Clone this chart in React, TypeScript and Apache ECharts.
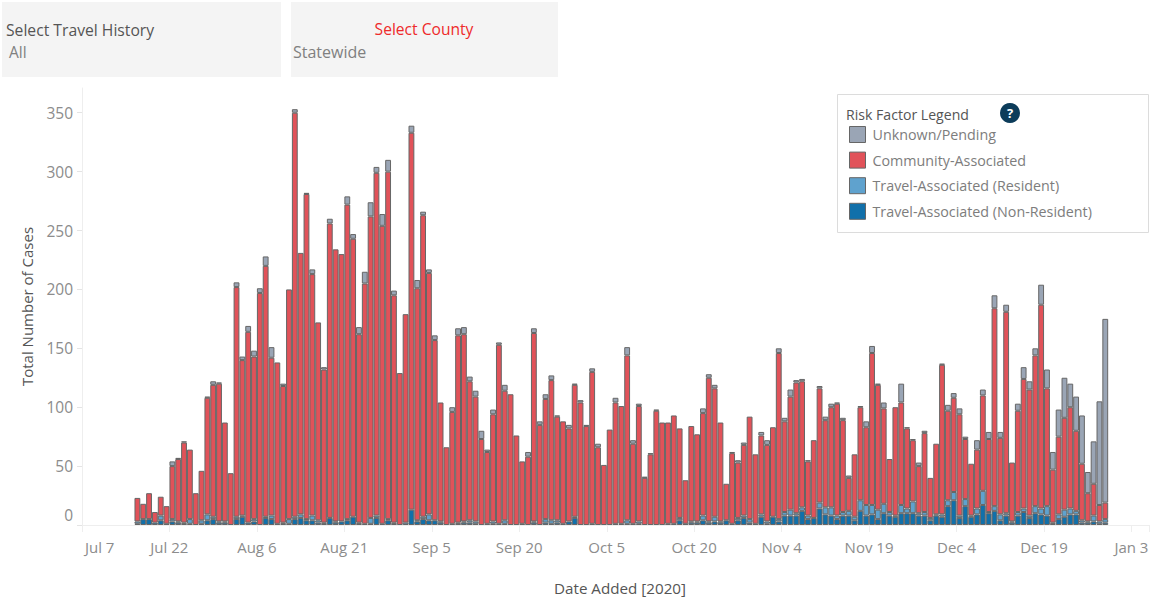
import React, { useEffect, useRef } from "react";
import * as echarts from "echarts";

const FONT = '"Open Sans", "Noto Sans", sans-serif';

const nonResident = [
  1,5,5,2,4,0,3,2,1,1, 0,1,4,5,2,2,0,5,7,2, 3,0,6,5,0,1,1,5,6,4, 4,2,1,6,2,3,4,7,1,1,
  1,6,0,4,1,0,0,13,3,5, 4,4,2,0,0,1,2,2,1,0, 1,1,0,1,0,0,0,0,2,0, 2,1,2,0,3,6,0,0,1,0,
  0,0,0,0,1,1,1,0,0,0, 0,0,0,4,1,2,2,4,2,3, 2,4,1,4,6,2,1,7,1,7, 3,8,8,8,12,5,6,14,9,8,
  5,8,8,4,12,8,9,5,10,8, 7,10,10,10,8,8,4,8,7,16, 21,6,16,7,9,17,10,12,4,8, 2,8,11,6,10,9,8,1,5,7,
  9,9,2,2,3,1,2,
];
const resident = [
  2,0,0,0,4,1,2,1,1,4, 0,3,5,2,1,1,0,2,1,0, 2,0,1,3,1,1,4,2,3,1, 4,2,1,0,1,0,1,0,1,0,
  5,2,1,1,1,0,2,0,1,2, 5,0,1,0,1,1,1,2,2,0, 0,2,1,3,0,0,1,0,1,0, 3,3,2,1,0,1,0,0,0,0,
  0,0,1,1,3,0,2,0,0,0, 0,1,1,2,0,1,1,4,1,4, 1,0,0,2,2,3,0,2,2,0, 2,3,5,2,3,3,0,5,6,7,
  3,3,4,3,9,9,8,8,8,3, 1,7,4,10,2,3,2,1,2,5, 7,2,6,1,5,12,1,4,5,2, 1,3,3,2,6,5,8,1,4,6,
  5,3,2,1,5,2,3,
];
const community = [
  20,13,22,9,16,15,45,53,68,59, 27,42,99,112,117,84,44,195,132,162,
  138,197,213,134,137,116,195,343,222,276, 205,168,130,250,231,227,267,236,160,204,
  256,291,253,295,193,129,177,320,197,256, 205,153,101,66,95,159,159,118,106,73,
  61,91,152,110,111,76,53,58,160,85, 102,119,88,87,79,112,104,84,129,66,
  51,81,103,100,140,68,98,40,60,97, 87,86,92,76,37,81,74,87,122,109,
  84,31,60,47,60,87,59,67,65,76, 141,77,96,111,107,46,66,97,74,85,
  95,78,28,53,79,66,129,106,81,45, 92,87,68,52,40,67,34,60,127,76,
  80,86,51,44,50,81,62,168,65,171, 50,86,110,107,128,173,100,45,66,78,
  86,68,48,24,27,14,14,
];
const unknown = [
  0,0,0,0,0,0,4,1,1,0, 0,0,1,3,1,0,0,4,3,5, 5,4,8,9,0,2,0,3,0,1, 4,0,2,4,0,0,7,4,6,10,
  12,5,10,10,4,0,0,6,7,3, 3,4,0,0,4,6,6,4,5,7, 2,4,2,5,0,0,0,4,4,3, 4,4,1,0,3,1,2,1,3,3,
  0,0,4,0,7,3,2,1,1,1, 0,0,0,0,0,0,0,4,3,3, 0,0,1,2,2,0,0,3,4,0, 4,3,6,2,2,1,0,2,3,3,
  1,2,2,0,1,5,6,1,5,0, 0,16,1,1,3,2,0,0,1,5, 4,5,2,0,8,5,6,11,5,6, 0,6,10,7,6,17,16,15,23,34,
  20,29,41,18,36,88,156,
];
const yTicks = [0, 50, 100, 150, 200, 250, 300, 350];
const seriesNames = [
  "Unknown/Pending",
  "Community-Associated",
  "Travel-Associated (Resident)",
  "Travel-Associated (Non-Resident)",
];

const MONTHS = ["Jan","Feb","Mar","Apr","May","Jun","Jul","Aug","Sep","Oct","Nov","Dec"];
const categories: string[] = [];
for (let i = 0; i < 183; i++) {
  const d = new Date(Date.UTC(2020, 6, 7 + i));
  categories.push(`${MONTHS[d.getUTCMonth()]} ${d.getUTCDate()}`);
}
const LEAD = 9; // first reported day is Jul 16
const pad = (a: number[]) => [...new Array(LEAD).fill(null), ...a.map((v) => (v === 0 ? null : v))];

export default function App() {
  const ref = useRef<HTMLDivElement>(null);
  useEffect(() => {
    const chart = echarts.init(ref.current!, undefined, { renderer: "svg" });
    const bar = (name: string, data: number[], color: string) => ({
      name,
      type: "bar",
      stack: "cases",
      data: pad(data),
      barWidth: "100%",
      itemStyle: { color, borderColor: "#666666", borderWidth: 1 },
      emphasis: { disabled: true },
    });
    chart.setOption({
      animation: false,
      backgroundColor: "#ffffff",
      textStyle: { fontFamily: FONT },
      grid: { left: 82, top: 88, width: 1067, height: 440, containLabel: false },
      xAxis: {
        type: "category",
        data: categories,
        boundaryGap: true,
        name: "Date Added [2020]",
        nameLocation: "middle",
        nameGap: 55,
        nameTextStyle: { color: "#555", fontSize: 15.2, fontWeight: 500, fontFamily: FONT, padding: [0, 0, 0, 9] },
        axisLine: { show: true, lineStyle: { color: "#eeeeee" } },
        axisTick: {
          show: true,
          alignWithLabel: false,
          length: 7,
          interval: (i: number) => i % 15 === 0,
          lineStyle: { color: "#eeeeee" },
        },
        axisLabel: {
          color: "#8c8c8c",
          fontSize: 15,
          fontFamily: FONT,
          margin: 14,
          padding: [0, 6, 0, 0],
          alignMinLabel: "left",
          hideOverlap: false,
          interval: (i: number) => i % 15 === 0,
        },
        splitLine: { show: false },
      },
      yAxis: {
        type: "value",
        min: 0,
        max: 371,
        name: "Total Number of Cases",
        nameLocation: "middle",
        nameGap: 48,
        nameRotate: 90,
        nameTextStyle: { color: "#555", fontSize: 15, fontWeight: 500, fontFamily: FONT },
        axisLine: { show: true, lineStyle: { color: "#eeeeee" } },
        axisTick: { show: true, length: 5, lineStyle: { color: "#e4e4e4" }, customValues: yTicks },
        axisLabel: {
          color: "#8c8c8c",
          fontSize: 15.5,
          fontFamily: FONT,
          margin: 9,
          customValues: yTicks,
          verticalAlignMinLabel: "bottom",
          formatter: (v: number) => (v === 0 ? "{z|0}" : String(v)),
          rich: { z: { color: "#8c8c8c", fontSize: 15.5, fontFamily: FONT, padding: [0, 0, 2, 0] } },
        },
        splitLine: { show: false },
      },
      legend: {
        show: true,
        orient: "vertical",
        left: 849,
        top: 126,
        itemWidth: 16,
        itemHeight: 16,
        itemGap: 8.6,
        padding: 0,
        icon: "rect",
        selectedMode: false,
        data: seriesNames,
        textStyle: { color: "#7d7d7d", fontSize: 14.3, lineHeight: 16, fontFamily: FONT, padding: [0, 0, 0, 2] },
        itemStyle: { borderColor: "#666666", borderWidth: 1 },
      },
      series: [
        bar(seriesNames[3], nonResident, "#1170aa"),
        bar(seriesNames[2], resident, "#5fa2ce"),
        bar(seriesNames[1], community, "#e15259"),
        bar(seriesNames[0], unknown, "#9aa5b5"),
      ],
      graphic: [
        { type: "rect", z: 0, shape: { x: 2, y: 2, width: 279, height: 75 }, style: { fill: "#f4f4f4" } },
        { type: "rect", z: 0, shape: { x: 291, y: 2, width: 267, height: 75 }, style: { fill: "#f4f4f4" } },
        { type: "text", x: 6, y: 30, style: { text: "Select Travel History", fill: "#555", font: `500 15.7px ${FONT}`, verticalAlign: "middle" } },
        { type: "text", x: 9, y: 52, style: { text: "All", fill: "#808080", font: `15.5px ${FONT}`, verticalAlign: "middle" } },
        { type: "text", x: 424, y: 29, style: { text: "Select County", fill: "#ee2a2a", font: `500 15.6px ${FONT}`, align: "center", verticalAlign: "middle" } },
        { type: "text", x: 293, y: 52, style: { text: "Statewide", fill: "#808080", font: `16px ${FONT}`, verticalAlign: "middle" } },
        { type: "rect", z: 0, shape: { x: 837.5, y: 94.5, width: 311, height: 138 }, style: { fill: "#ffffff", stroke: "#dcdcdc", lineWidth: 1 } },
        { type: "text", z: 5, x: 846, y: 114, style: { text: "Risk Factor Legend", fill: "#555", font: `500 14.1px ${FONT}`, verticalAlign: "middle" } },
        { type: "circle", z: 5, shape: { cx: 1010, cy: 113, r: 10 }, style: { fill: "#0c3c5a" } },
        { type: "text", z: 6, x: 1010, y: 113, style: { text: "?", fill: "#ffffff", font: `bold 13px ${FONT}`, align: "center", verticalAlign: "middle" } },
      ],
    });
    return () => chart.dispose();
  }, []);
  return (
    <div
      ref={ref}
      style={{ position: "fixed", left: 0, top: 0, width: 1152, height: 600, background: "#fff" }}
    />
  );
}
